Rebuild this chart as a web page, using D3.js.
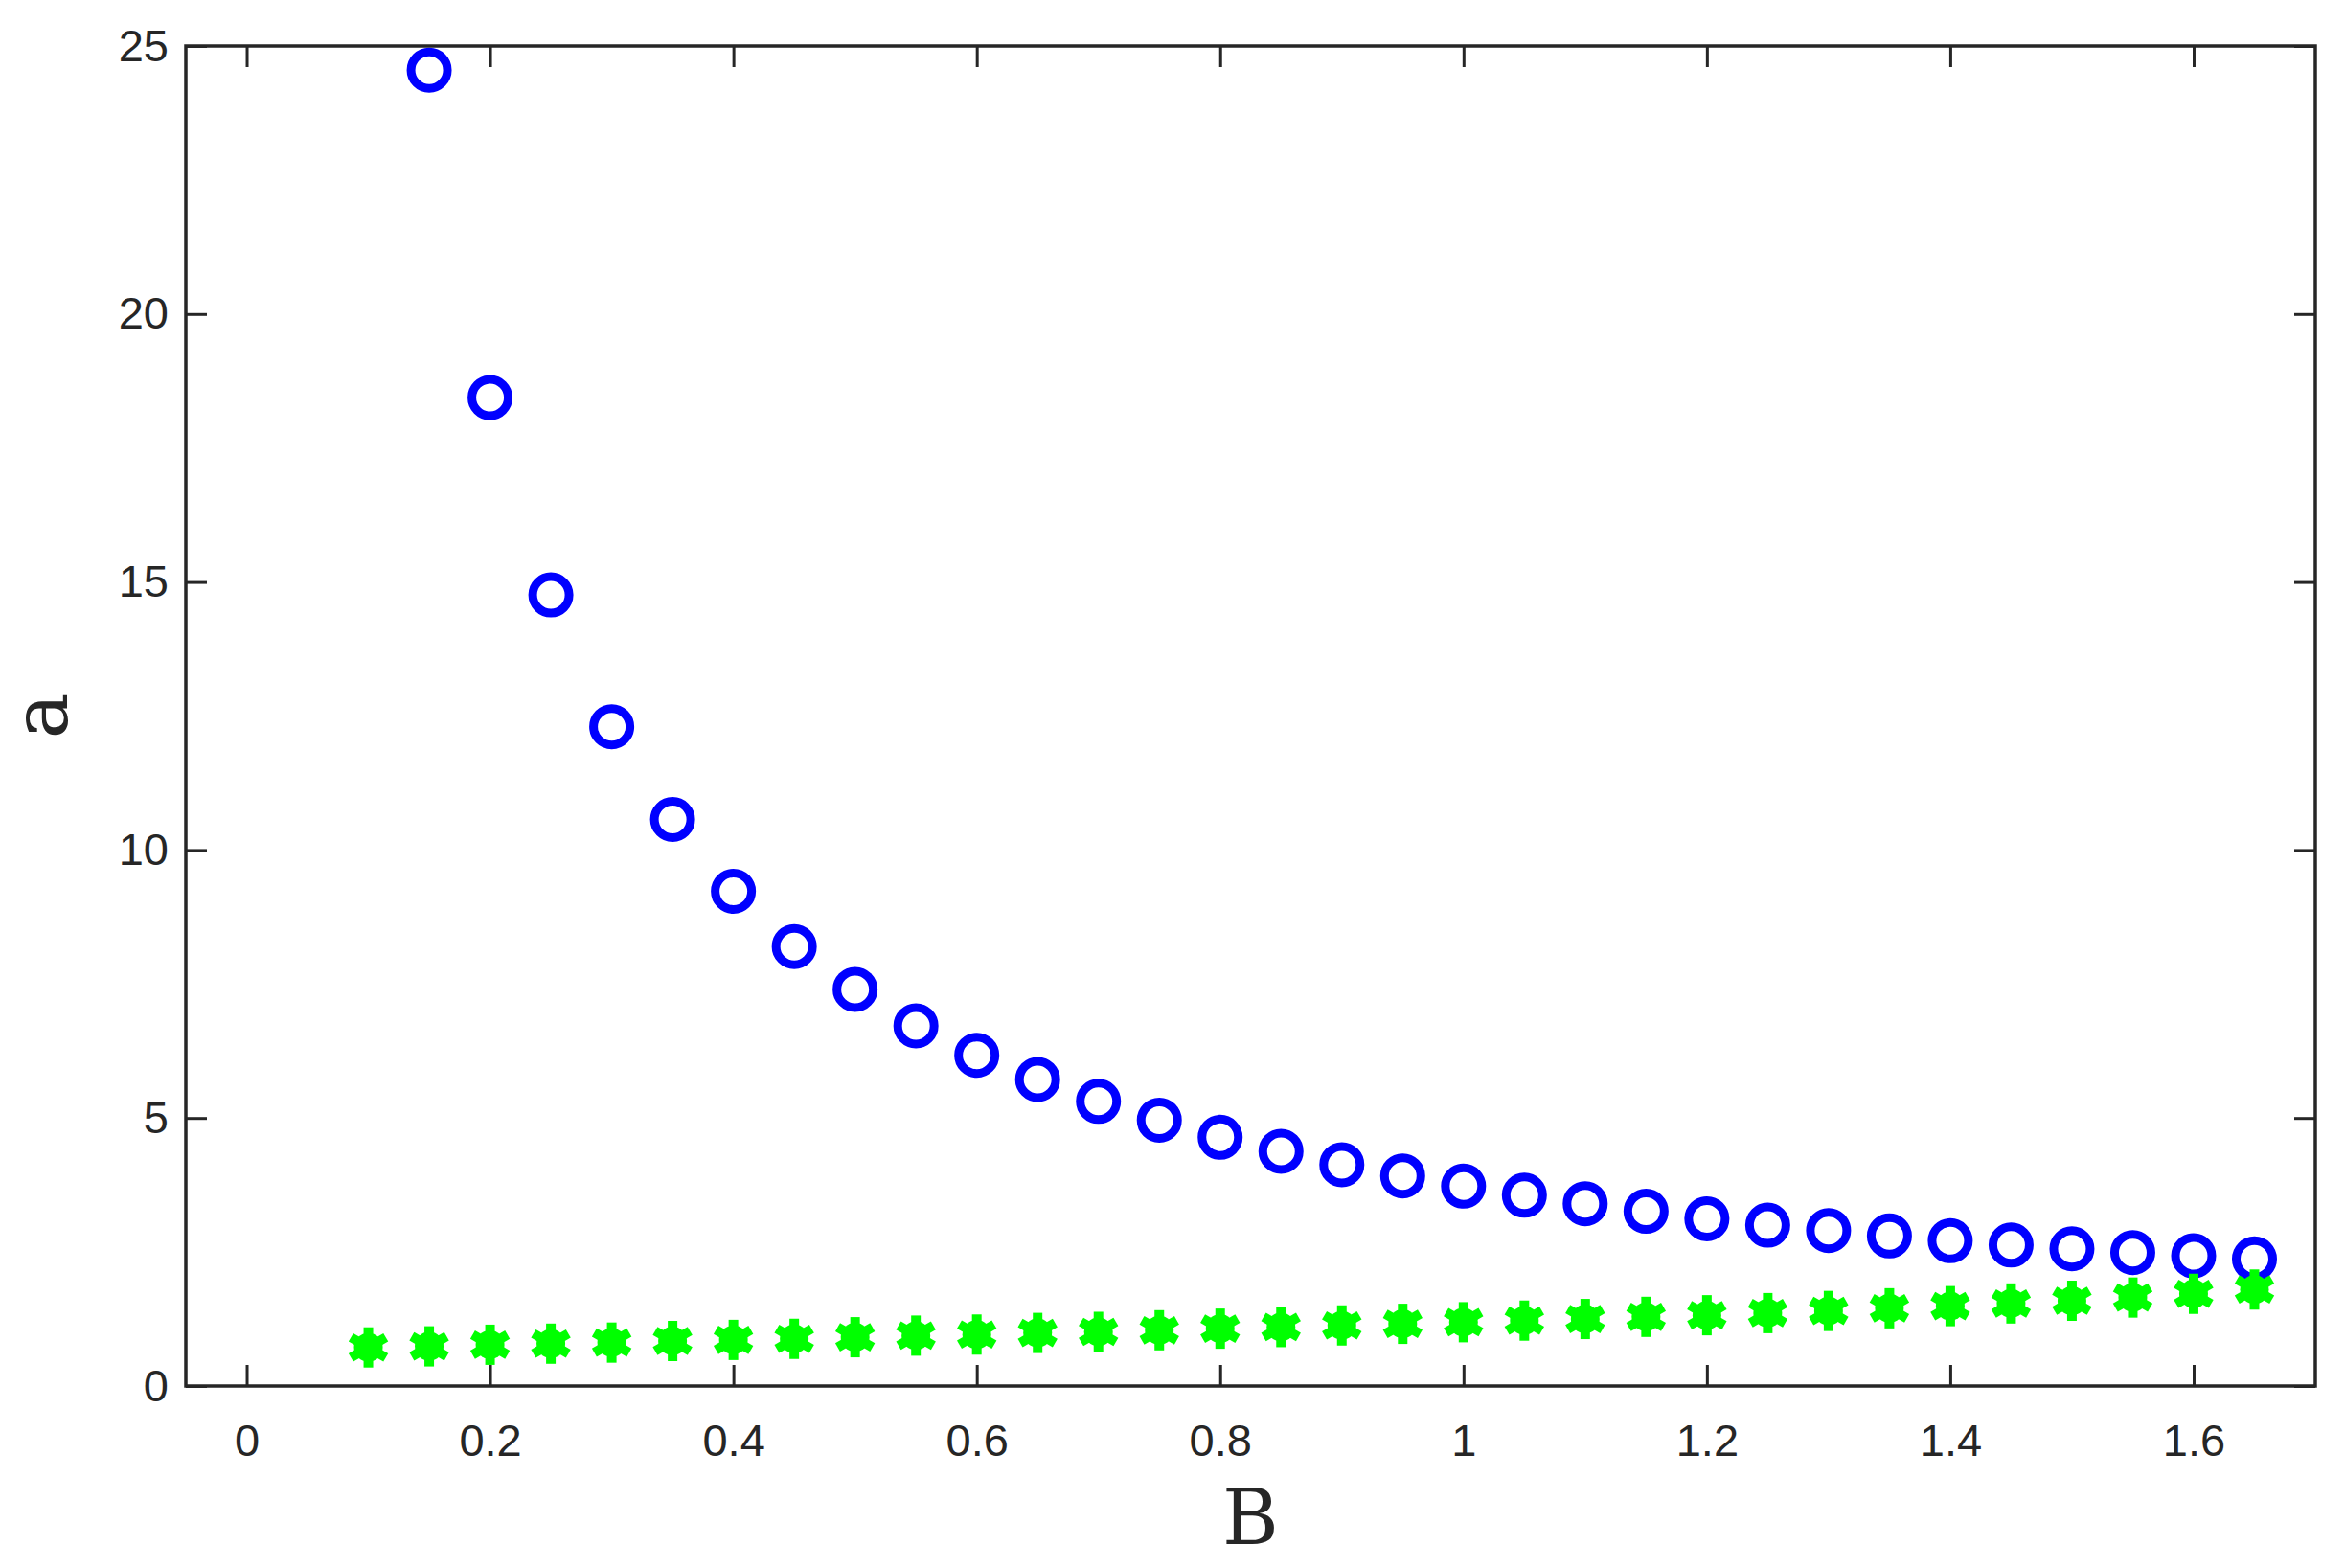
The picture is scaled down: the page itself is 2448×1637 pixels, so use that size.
<!DOCTYPE html>
<html>
<head>
<meta charset="utf-8">
<script src="https://cdn.jsdelivr.net/npm/d3@7"></script>
<style>
  body { margin: 0; background: #fff; }
  text { font-family: "Liberation Sans", Arial, sans-serif; fill: #262626; }
</style>
</head>
<body>
<div id="chart"></div>
<script>
const blueB = [0.15,0.2,0.25,0.3,0.35,0.4,0.45,0.5,0.55,0.6,0.65,0.7,0.75,0.8,0.85,0.9,0.95,1,1.05,1.1,1.15,1.2,1.25,1.3,1.35,1.4,1.45,1.5,1.55,1.6,1.65];
const blueA = [24.55,18.44,14.76,12.3,10.57,9.23,8.2,7.4,6.72,6.17,5.72,5.31,4.96,4.64,4.38,4.13,3.92,3.73,3.56,3.4,3.26,3.12,3.0,2.9,2.8,2.71,2.63,2.56,2.49,2.43,2.37];
const greenB = [0.1,0.15,0.2,0.25,0.3,0.35,0.4,0.45,0.5,0.55,0.6,0.65,0.7,0.75,0.8,0.85,0.9,0.95,1,1.05,1.1,1.15,1.2,1.25,1.3,1.35,1.4,1.45,1.5,1.55,1.6,1.65];
const greenA = [0.72,0.74,0.77,0.79,0.81,0.84,0.86,0.88,0.91,0.94,0.96,0.99,1.01,1.04,1.07,1.1,1.13,1.16,1.19,1.22,1.25,1.29,1.32,1.36,1.4,1.45,1.49,1.54,1.59,1.65,1.72,1.8];
const xTicks = [0,0.2,0.4,0.6,0.8,1,1.2,1.4,1.6];
const yTicks = [0,5,10,15,20,25];

const width = 2448, height = 1637;
const margin = { top: 48, right: 31, bottom: 190, left: 194 };
const svg = d3.select('#chart').append('svg').attr('width', width).attr('height', height);

const x = d3.scaleLinear().domain([-0.05, 1.7]).range([margin.left, width - margin.right]);
const y = d3.scaleLinear().domain([0, 25]).range([height - margin.bottom, margin.top]);

const tickLen = 22;
const g = svg.append('g');
// frame
g.append('rect')
  .attr('x', x.range()[0]).attr('y', y.range()[1])
  .attr('width', x.range()[1] - x.range()[0]).attr('height', y.range()[0] - y.range()[1])
  .attr('fill', 'none').attr('stroke', '#262626').attr('stroke-width', 3.5);

const axisStyle = sel => {
  sel.select('.domain').remove();
  sel.selectAll('line').attr('stroke', '#262626').attr('stroke-width', 3);
  sel.selectAll('text').style('font-size', '47px').style('fill', '#262626');
};
g.append('g').attr('transform', `translate(0,${y(0)})`)
  .call(d3.axisBottom(x).tickValues(xTicks).tickSize(-tickLen).tickPadding(40).tickFormat(d3.format('')))
  .call(axisStyle);
g.append('g').attr('transform', `translate(0,${y(25)})`)
  .call(d3.axisTop(x).tickValues(xTicks).tickSize(-tickLen).tickFormat(''))
  .call(axisStyle);
g.append('g').attr('transform', `translate(${x(-0.05)},0)`)
  .call(d3.axisLeft(y).tickValues(yTicks).tickSize(-tickLen).tickPadding(18))
  .call(axisStyle);
g.append('g').attr('transform', `translate(${x(1.7)},0)`)
  .call(d3.axisRight(y).tickValues(yTicks).tickSize(-tickLen).tickFormat(''))
  .call(axisStyle);

// axis labels
svg.append('text').attr('x', (x.range()[0] + x.range()[1]) / 2).attr('y', 1612)
  .attr('text-anchor', 'middle').style('font-family', '"DejaVu Serif", "Liberation Serif", serif')
  .style('font-size', '80px').text('B');
svg.append('text').attr('transform', `translate(70,${(y.range()[0] + y.range()[1]) / 2}) rotate(-90)`)
  .attr('text-anchor', 'middle').style('font-family', '"DejaVu Serif", "Liberation Serif", serif')
  .style('font-size', '80px').text('a');

// blue circles
svg.append('g').selectAll('circle').data(blueB.map((b, i) => [b, blueA[i]])).enter()
  .append('circle')
  .attr('cx', d => x(d[0])).attr('cy', d => y(d[1])).attr('r', 19)
  .attr('fill', 'none').attr('stroke', '#0000ff').attr('stroke-width', 9);

// green asterisks
const star = svg.append('g');
const arms = [0, 60, 120];
greenB.forEach((b, i) => {
  const cg = star.append('g').attr('transform', `translate(${x(b)},${y(greenA[i])})`);
  cg.append('circle').attr('r', 15).attr('fill', '#00ff00');
  arms.forEach(a => {
    cg.append('line').attr('x1', 0).attr('y1', -21).attr('x2', 0).attr('y2', 21)
      .attr('transform', `rotate(${a})`)
      .attr('stroke', '#00ff00').attr('stroke-width', 10);
  });
});
</script>
</body>
</html>
